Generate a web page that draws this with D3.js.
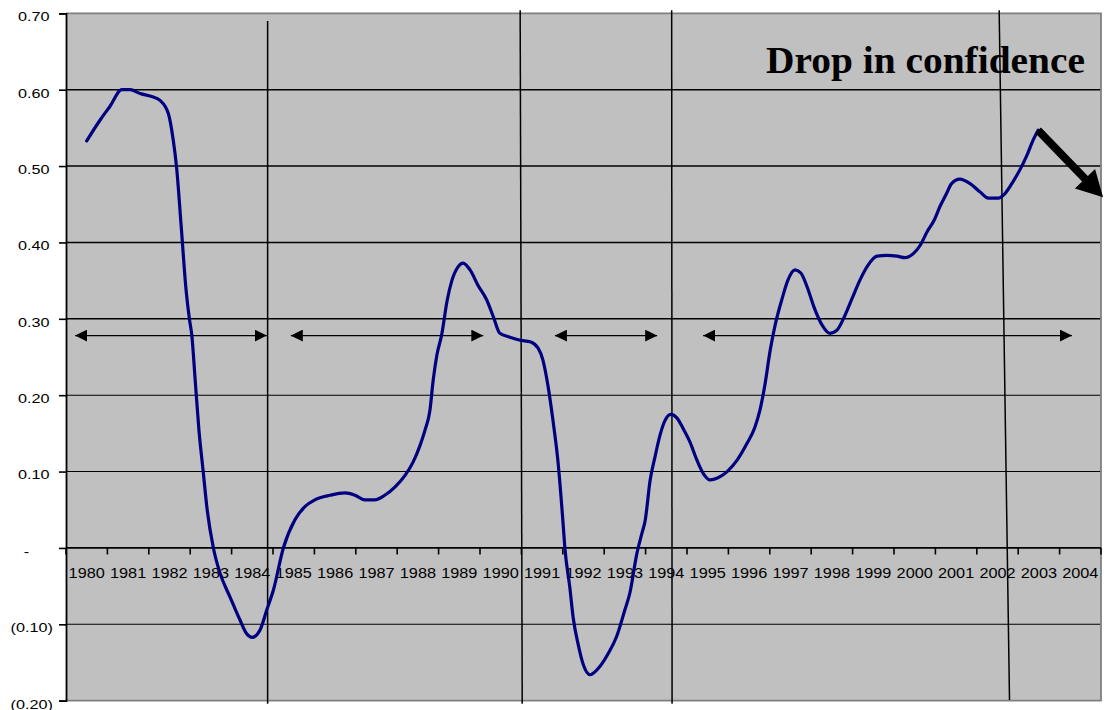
<!DOCTYPE html>
<html>
<head>
<meta charset="utf-8">
<script src="https://cdn.jsdelivr.net/npm/d3@7/dist/d3.min.js"></script>
<style>
  html, body { margin: 0; padding: 0; background: #ffffff; }
  svg { display: block; }
</style>
</head>
<body>
<svg id="chart" width="1104" height="710"></svg>
<script>
// Category labels along the x axis
const yearLabels = ["1980","1981","1982","1983","1984","1985","1986","1987","1988","1989",
  "1990","1991","1992","1993","1994","1995","1996","1997","1998","1999",
  "2000","2001","2002","2003","2004"];

// Value axis ticks
const yTicks = [0.7, 0.6, 0.5, 0.4, 0.3, 0.2, 0.1, 0, -0.1, -0.2];

// Series: decimal year (centre of a year's band = the year) and value
const dates = [
  1980.00, 1980.32, 1980.56, 1980.85, 1981.05, 1981.29, 1981.57, 1981.77, 1981.97, 1982.09,
  1982.17, 1982.28, 1982.40, 1982.48, 1982.54, 1982.62, 1982.71, 1982.81, 1982.91, 1983.06,
  1983.22, 1983.46, 1983.70, 1983.86, 1984.00, 1984.19, 1984.35, 1984.51, 1984.75, 1985.03,
  1985.27, 1985.51, 1985.88, 1986.24, 1986.48, 1986.72, 1986.96, 1987.20, 1987.45, 1987.69,
  1987.88, 1988.05, 1988.17, 1988.29, 1988.37, 1988.46, 1988.57, 1988.71, 1988.82, 1988.97,
  1989.09, 1989.26, 1989.45, 1989.66, 1989.82, 1989.98, 1990.22, 1990.47, 1990.71, 1990.90,
  1991.02, 1991.14, 1991.26, 1991.38, 1991.50, 1991.55, 1991.67, 1991.75, 1991.87, 1991.99,
  1992.16, 1992.40, 1992.60, 1992.80, 1993.00, 1993.12, 1993.29, 1993.41, 1993.49, 1993.61,
  1993.73, 1993.85, 1993.97, 1994.11, 1994.26, 1994.40, 1994.57, 1994.74, 1994.91, 1995.06,
  1995.25, 1995.47, 1995.71, 1995.95, 1996.14, 1996.26, 1996.38, 1996.51, 1996.63, 1996.79,
  1996.94, 1997.11, 1997.25, 1997.40, 1997.57, 1997.76, 1997.95, 1998.12, 1998.32, 1998.49,
  1998.68, 1998.87, 1999.09, 1999.33, 1999.57, 1999.77, 1999.96, 2000.13, 2000.30, 2000.47,
  2000.61, 2000.76, 2000.89, 2001.09, 2001.34, 2001.58, 2001.78, 2002.02, 2002.18, 2002.38,
  2002.54, 2002.71, 2002.86, 2002.98
];
const values = [
  0.533, 0.560, 0.578, 0.600, 0.600, 0.595, 0.591, 0.586, 0.569, 0.534,
  0.499, 0.423, 0.338, 0.300, 0.278, 0.220, 0.155, 0.102, 0.050, 0.000,
  -0.033, -0.064, -0.094, -0.112, -0.117, -0.107, -0.081, -0.055, 0.000, 0.037,
  0.054, 0.063, 0.069, 0.072, 0.069, 0.063, 0.063, 0.069, 0.080, 0.095,
  0.112, 0.134, 0.154, 0.180, 0.220, 0.253, 0.278, 0.325, 0.350, 0.368,
  0.373, 0.364, 0.344, 0.325, 0.303, 0.281, 0.276, 0.272, 0.270, 0.262,
  0.246, 0.213, 0.168, 0.115, 0.037, 0.000, -0.052, -0.091, -0.126, -0.152,
  -0.166, -0.155, -0.138, -0.116, -0.081, -0.059, -0.007, 0.019, 0.036, 0.089,
  0.120, 0.148, 0.167, 0.175, 0.170, 0.157, 0.139, 0.115, 0.096, 0.089,
  0.092, 0.100, 0.115, 0.137, 0.158, 0.180, 0.213, 0.259, 0.292, 0.325,
  0.351, 0.364, 0.360, 0.342, 0.315, 0.292, 0.281, 0.285, 0.305, 0.327,
  0.351, 0.370, 0.382, 0.383, 0.382, 0.380, 0.385, 0.396, 0.414, 0.429,
  0.447, 0.463, 0.477, 0.483, 0.477, 0.466, 0.458, 0.458, 0.464, 0.480,
  0.495, 0.514, 0.534, 0.547
];

// Period dividers: [date at top, value at top, date at bottom, value at bottom]
const dividers = [
  [1984.37, 0.690, 1984.37, -0.204],
  [1990.47, 0.704, 1990.52, -0.204],
  [1994.13, 0.704, 1994.14, -0.204],
  [2002.04, 0.704, 2002.29, -0.199]
];

// Period spans marked with double-headed arrows: [from, to]
const spans = [
  [1979.72, 1984.35],
  [1984.93, 1989.58],
  [1991.31, 1993.78],
  [1994.89, 2003.80]
];
const spanLevel = 0.278;

// Trend arrow after the last observation
const trendEnd = [2004.55, 0.459];
const annotation = "Drop in confidence";

// ---- layout ----
const svg = d3.select("#chart");
const plotLeft = 66, plotRight = 1101, plotTop = 13.3, plotBottom = 700.7;

const x = d3.scaleBand().domain(yearLabels).range([plotLeft, plotRight]).paddingInner(0).paddingOuter(0);
const xt = d3.scaleLinear()
  .domain([+yearLabels[0] - 0.5, +yearLabels[yearLabels.length - 1] + 0.5])
  .range([plotLeft, plotRight]);
const y = d3.scaleLinear().domain([-0.2, 0.7]).range([plotBottom, plotTop]);

// plot area
svg.append("rect")
  .attr("x", plotLeft).attr("y", plotTop)
  .attr("width", plotRight - plotLeft).attr("height", plotBottom - plotTop)
  .attr("fill", "#c0c0c0");

// horizontal gridlines (interior levels only)
svg.append("g").selectAll("line")
  .data(yTicks.filter(v => v < 0.7 && v > -0.2 && v !== 0))
  .join("line")
  .attr("x1", plotLeft).attr("x2", plotRight)
  .attr("y1", d => y(d)).attr("y2", d => y(d))
  .attr("stroke", "#000")
  .attr("stroke-width", d => (d >= 0.3 ? 1.6 : 1.1));

// plot border on top, right, bottom
svg.append("path")
  .attr("d", `M${plotLeft},${plotTop}H${plotRight}V${plotBottom}H${plotLeft}`)
  .attr("fill", "none")
  .attr("stroke", "#808080")
  .attr("stroke-width", 1.8);

// y axis
const fmt = v => {
  if (Math.abs(v) < 1e-9) return "-";
  const s = Math.abs(v).toFixed(2);
  return v < 0 ? "(" + s + ")" : s;
};
const yAxis = d3.axisLeft(y).tickValues(yTicks).tickSize(7).tickFormat(fmt);
const gy = svg.append("g").attr("transform", `translate(${plotLeft},0)`).call(yAxis);
gy.select(".domain").attr("stroke", "#000").attr("stroke-width", 1.8);
gy.selectAll(".tick line").attr("stroke", "#000").attr("stroke-width", 1.6);
gy.selectAll(".tick text").remove();
gy.selectAll(".tick").each(function(d) {
  const t = d3.select(this);
  const label = fmt(d);
  let tx, anchor;
  if (label === "-") { tx = 26.5 - plotLeft; anchor = "middle"; }
  else if (d < 0) { tx = 53 - plotLeft; anchor = "end"; }
  else { tx = 49.5 - plotLeft; anchor = "end"; }
  t.append("text")
    .attr("transform", `translate(${tx},7.4) scale(1.22,1)`)
    .attr("text-anchor", anchor)
    .attr("font-family", "Arial, 'Liberation Sans', sans-serif")
    .attr("font-size", 13.3)
    .attr("fill", "#000")
    .text(label);
});

// x axis along the zero line
const xAxis = d3.axisBottom(x).tickSize(0).tickFormat(d => d);
const gx = svg.append("g").attr("transform", `translate(0,${y(0)})`).call(xAxis);
gx.select(".domain").remove();
gx.selectAll(".tick text").remove();
gx.selectAll(".tick").append("text")
  .attr("transform", "translate(0,30.5) scale(1.1,1)")
  .attr("text-anchor", "middle")
  .attr("font-family", "Arial, 'Liberation Sans', sans-serif")
  .attr("font-size", 14.8)
  .attr("fill", "#000")
  .text(d => d);
// tick marks on band boundaries
svg.append("g").selectAll("line")
  .data(yearLabels.map(d => x(d)).concat([plotRight]))
  .join("line")
  .attr("x1", d => d).attr("x2", d => d)
  .attr("y1", y(0)).attr("y2", y(0) + 6.5)
  .attr("stroke", "#000").attr("stroke-width", 1.6);
svg.append("line")
  .attr("x1", plotLeft).attr("x2", plotRight)
  .attr("y1", y(0)).attr("y2", y(0))
  .attr("stroke", "#000").attr("stroke-width", 1.8);

// period dividers
svg.append("g").selectAll("line")
  .data(dividers)
  .join("line")
  .attr("x1", d => xt(d[0])).attr("y1", d => y(d[1]))
  .attr("x2", d => xt(d[2])).attr("y2", d => y(d[3]))
  .attr("stroke", "#000").attr("stroke-width", 1.5);

// double-headed span arrows
const defs = svg.append("defs");
defs.append("marker")
  .attr("id", "headEnd").attr("viewBox", "0 0 12 12")
  .attr("refX", 12).attr("refY", 6)
  .attr("markerWidth", 12).attr("markerHeight", 12)
  .attr("markerUnits", "userSpaceOnUse")
  .attr("orient", "auto")
  .append("path").attr("d", "M0,0L12,6L0,12Z").attr("fill", "#000");
defs.append("marker")
  .attr("id", "headStart").attr("viewBox", "0 0 12 12")
  .attr("refX", 0).attr("refY", 6)
  .attr("markerWidth", 12).attr("markerHeight", 12)
  .attr("markerUnits", "userSpaceOnUse")
  .attr("orient", "auto")
  .append("path").attr("d", "M12,0L0,6L12,12Z").attr("fill", "#000");

svg.append("g").selectAll("line")
  .data(spans)
  .join("line")
  .attr("x1", d => xt(d[0])).attr("x2", d => xt(d[1]))
  .attr("y1", y(spanLevel)).attr("y2", y(spanLevel))
  .attr("stroke", "#000").attr("stroke-width", 1.4)
  .attr("marker-start", "url(#headStart)")
  .attr("marker-end", "url(#headEnd)");

// series line
const series = dates.map((d, i) => [d, values[i]]);
svg.append("path")
  .datum(series)
  .attr("fill", "none")
  .attr("stroke", "#000080")
  .attr("stroke-width", 3.2)
  .attr("stroke-linejoin", "round")
  .attr("stroke-linecap", "round")
  .attr("d", d3.line().x(d => xt(d[0])).y(d => y(d[1])).curve(d3.curveMonotoneX));

// trend arrow from the final observation
(function () {
  const last = series[series.length - 1];
  const x0 = xt(last[0]), y0 = y(last[1]);
  const x1 = xt(trendEnd[0]), y1 = y(trendEnd[1]);
  const len = Math.hypot(x1 - x0, y1 - y0);
  const ux = (x1 - x0) / len, uy = (y1 - y0) / len;
  const px = -uy, py = ux;
  const headLen = 26, headHalf = 14, shaftHalf = 4;
  const bx = x1 - ux * headLen, by = y1 - uy * headLen;
  const pts = [
    [x0 + px * shaftHalf, y0 + py * shaftHalf],
    [bx + px * shaftHalf, by + py * shaftHalf],
    [bx + px * headHalf, by + py * headHalf],
    [x1, y1],
    [bx - px * headHalf, by - py * headHalf],
    [bx - px * shaftHalf, by - py * shaftHalf],
    [x0 - px * shaftHalf, y0 - py * shaftHalf]
  ];
  svg.append("path")
    .attr("d", "M" + pts.map(p => p.join(",")).join("L") + "Z")
    .attr("fill", "#000");
})();

// annotation
svg.append("text")
  .attr("x", 766).attr("y", 72.5)
  .attr("font-family", "'Times New Roman', 'Liberation Serif', serif")
  .attr("font-weight", "bold")
  .attr("font-size", 37.5)
  .attr("textLength", 319)
  .attr("lengthAdjust", "spacingAndGlyphs")
  .attr("fill", "#000")
  .text(annotation);
</script>
</body>
</html>
